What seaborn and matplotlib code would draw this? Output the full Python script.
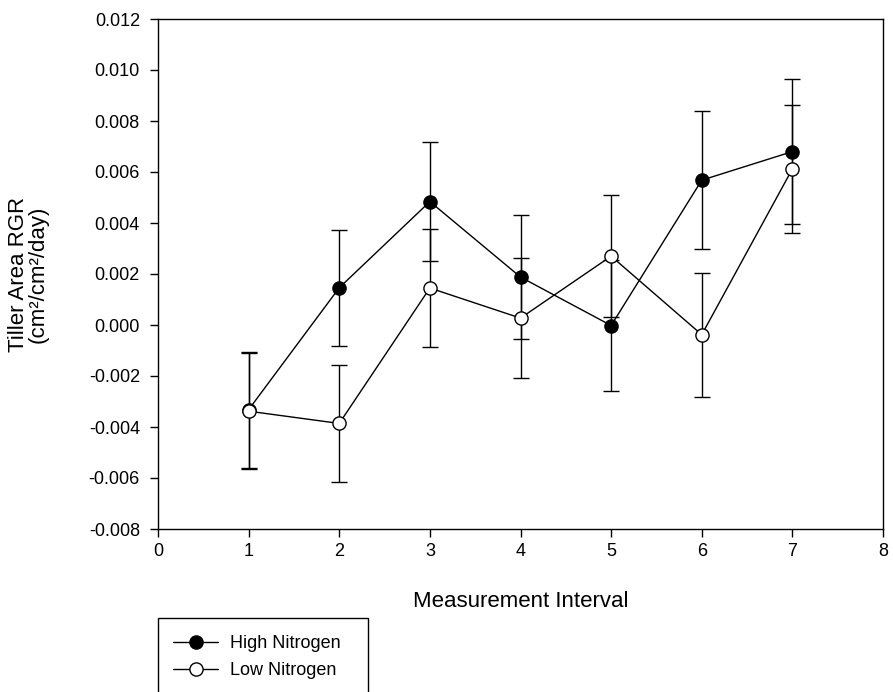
import matplotlib
matplotlib.use("Agg")
import matplotlib.pyplot as plt
import seaborn as sns
import pandas as pd
import numpy as np
from matplotlib.patches import Rectangle
from matplotlib.lines import Line2D

interval = [1, 2, 3, 4, 5, 6, 7]
high_n = [-0.00332, 0.00146, 0.00484, 0.00188, -0.00002, 0.00568, 0.00680]
high_err = [0.00228, 0.00228, 0.00232, 0.00243, 0.00258, 0.00270, 0.00284]
low_n = [-0.00338, -0.00386, 0.00145, 0.00027, 0.00270, -0.00038, 0.00612]
low_err = [0.00228, 0.00228, 0.00230, 0.00236, 0.00240, 0.00243, 0.00252]
series_names = ["High Nitrogen", "Low Nitrogen"]
y_ticks = [-0.008, -0.006, -0.004, -0.002, 0.000, 0.002, 0.004, 0.006, 0.008, 0.010, 0.012]
x_ticks = [0, 1, 2, 3, 4, 5, 6, 7, 8]

df = pd.DataFrame({
    "interval": interval * 2,
    "rgr": high_n + low_n,
    "err": high_err + low_err,
    "group": [series_names[0]] * 7 + [series_names[1]] * 7,
})

sns.set_style("ticks")
plt.rcParams["font.family"] = ["Liberation Sans", "DejaVu Sans"]
plt.rcParams["text.color"] = "black"
plt.rcParams["axes.labelcolor"] = "black"

W, H = 893, 692
L, R, T, B = 158, 883, 19, 529
fig = plt.figure(figsize=(W / 100, H / 100), dpi=100)
ax = fig.add_axes([L / W, 1 - B / H, (R - L) / W, (B - T) / H])

face = {series_names[0]: "black", series_names[1]: "white"}
for name in series_names:
    sub = df[df["group"] == name]
    ax.errorbar(sub["interval"], sub["rgr"], yerr=sub["err"], fmt="none",
                ecolor="black", elinewidth=1.0, capsize=5.7, capthick=1.0, zorder=2)
    sns.lineplot(data=sub, x="interval", y="rgr", ax=ax, color="black",
                 linewidth=1.0, marker="o", markersize=9.5,
                 markerfacecolor=face[name], markeredgecolor="black",
                 markeredgewidth=1.0, legend=False, zorder=3, errorbar=None)

ax.set_xlim(0, 8)
ax.set_ylim(-0.008, 0.012)
ax.set_xticks(x_ticks)
ax.set_xticklabels([str(v) for v in x_ticks])
ax.set_yticks(y_ticks)
ax.set_yticklabels([f"{v:.3f}" for v in y_ticks])
ax.tick_params(direction="out", length=6, width=1, labelsize=13, colors="black",
               top=False, right=False, pad=7)
ax.tick_params(axis="x", pad=4)
for s in ax.spines.values():
    s.set_visible(True)
    s.set_color("black")
    s.set_linewidth(1.0)

ax.set_xlabel("Measurement Interval", fontsize=16, color="black")
ax.xaxis.set_label_coords(0.5, (B - 591) / (B - T))
ax.set_ylabel("Tiller Area RGR\n(cm\u00b2/cm\u00b2/day)", fontsize=16,
              linespacing=0.95, color="black")
ax.yaxis.set_label_coords((49 - L) / (R - L), 0.5)

handles = [
    Line2D([], [], color="black", lw=1.0, marker="o", markersize=9.5,
           markerfacecolor="black", markeredgecolor="black"),
    Line2D([], [], color="black", lw=1.0, marker="o", markersize=9.5,
           markerfacecolor="white", markeredgecolor="black"),
]
leg = fig.legend(handles, series_names, loc="upper left",
                 bbox_to_anchor=(173 / W, 1 - 635 / H), frameon=False,
                 fontsize=13, handlelength=2.5, handletextpad=0.66,
                 labelspacing=0.58, borderpad=0.0, borderaxespad=0.0)
for t in leg.get_texts():
    t.set_color("black")
fig.patches.append(Rectangle((158 / W, -0.05), (368 - 158) / W,
                             (1 - 618 / H) + 0.05, transform=fig.transFigure,
                             fill=False, edgecolor="black", linewidth=1.0))

fig.savefig("out.png", dpi=100)
